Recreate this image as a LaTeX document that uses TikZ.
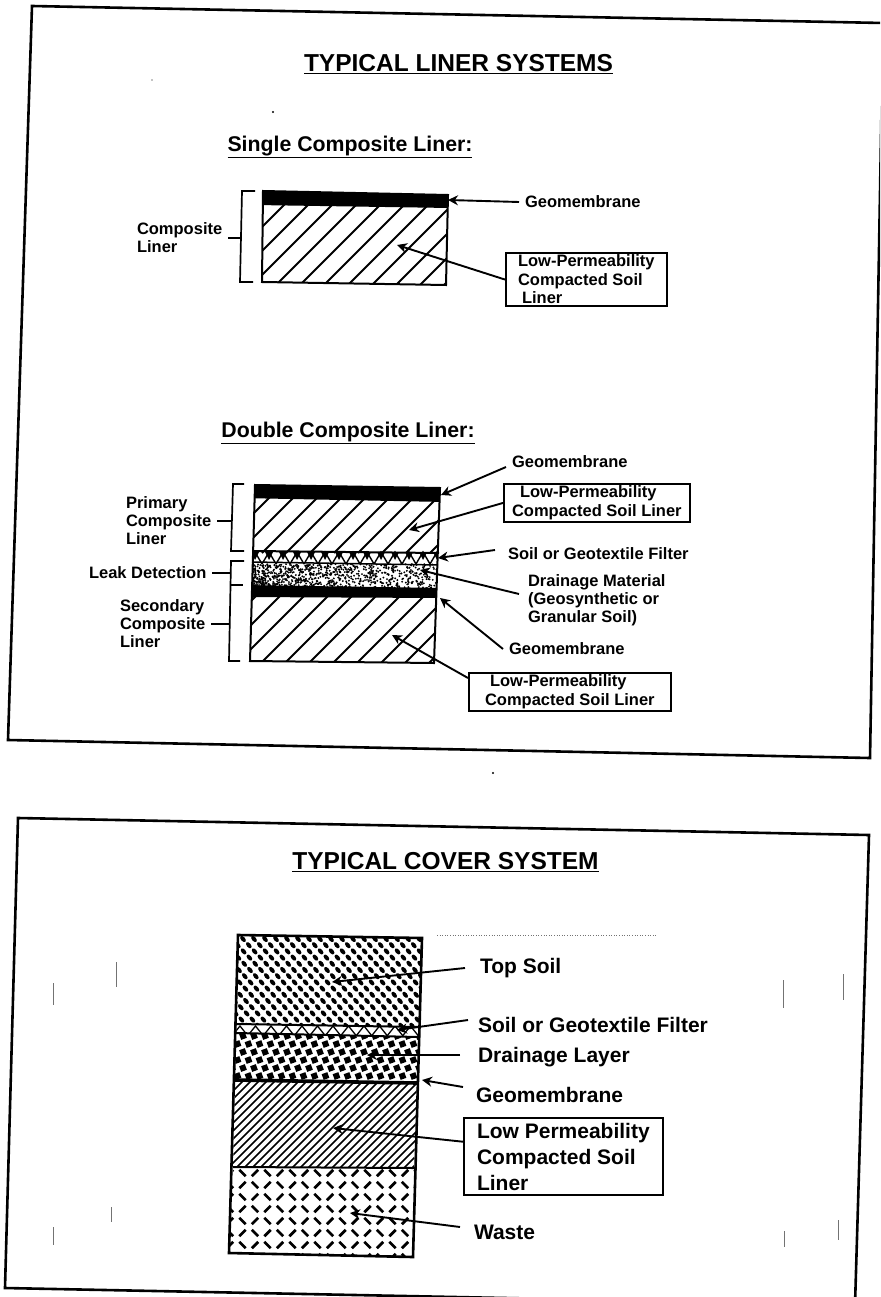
\documentclass[tikz,border=0pt]{standalone}
\usepackage{fontspec}
\setmainfont{Liberation Sans}
\usepackage{xcolor}
\usetikzlibrary{arrows.meta, positioning}

\begin{document}
\begin{tikzpicture}[
    x=1pt, y=-1pt,
    tag/.style={font=\fontsize{16.5}{18}\selectfont\bfseries, align=left, inner sep=0pt, outer sep=6pt, anchor=west},
    bigtag/.style={tag, font=\fontsize{21}{21}\selectfont\bfseries},
    tagbox/.style={draw, line width=2pt, font=\fontsize{16.5}{18.5}\selectfont\bfseries, align=left, inner ysep=2pt, anchor=north west},
    heading/.style={font=\fontsize{21.3}{24}\selectfont\bfseries, inner sep=0pt},
    title/.style={font=\fontsize{24.5}{28}\selectfont\bfseries, inner sep=0pt},
    arrow/.style={-{Stealth[length=10pt, width=10pt]}, line width=1.9pt},
    bracket/.style={line width=1.7pt},
    frame/.style={line width=2.6pt},
    hatch/.style={line width=1.8pt},
    edge/.style={line width=2pt},
    speck/.style={line width=0.6pt, black!55}
]
\useasboundingbox (0,0) rectangle (880,1297);
\clip (0,0) rectangle (880,1297);

% Frames
\draw[frame] (32,6) -- (883,23) -- (870,758) -- (8,740) -- cycle;
\draw[frame] (18,818) -- (869,835) -- (855,1305) -- (5,1288) -- cycle;

% Specks of the scan
\draw[speck] (116,962) -- (116,987);
\draw[speck] (53,983) -- (53,1005);
\draw[speck] (111,1207) -- (111,1222);
\draw[speck] (53,1227) -- (53,1245);
\draw[speck] (783,980) -- (783,1008);
\draw[speck] (843,974) -- (843,1000);
\draw[speck] (784,1231) -- (784,1247);
\draw[speck] (838,1220) -- (838,1240);
\draw[speck, dotted] (437,935) -- (657,935);
\fill (152,80) circle (0.7pt);
\fill (273,112) circle (1.2pt);
\fill (493,773) circle (1.2pt);

% Headings
\node[title] (liners) at (458.5,64) {\underline{TYPICAL LINER SYSTEMS}};
\node[heading] (single) at (350,147) {\underline{Single Composite Liner:}};
\node[heading] (double) at (348,433) {\underline{Double Composite Liner:}};
\node[title] (cover) at (445.5,862) {\underline{TYPICAL COVER SYSTEM}};

% Single composite liner
\begin{scope}
  \clip (263,191) -- (448,195) -- (446,285) -- (262,282) -- cycle;
  \foreach \i in {0,...,13} {
    \draw[hatch] (180+\i*24,285) -- (262+\i*24,203);
  }
  \fill (255,191) -- (450,195) -- (450,208) -- (255,205) -- cycle;
\end{scope}
\draw[edge] (263,191) -- (448,195) -- (446,285) -- (262,282) -- cycle;
\coordinate (geoone) at (448,200);
\coordinate (soilone) at (397,245);

\node[tag] (complabel) at (131,238) {Composite\\Liner};
\coordinate (brkone) at (241,237);
\draw[bracket] (255,191) -- (242,191) -- (240,282) -- (253,282);
\draw[bracket] (complabel.east) -- (complabel.east -| brkone);

\node[tag] (geoa) at (519,202) {Geomembrane};
\draw[arrow] (geoa.west) -- (geoone);
\node[tagbox, inner xsep=12pt] (soila) at (505,252) {Low-Permeability\\Compacted Soil\\\hspace*{4pt}Liner};
\draw[arrow] (soila.west) -- (soilone);

% Double composite liner
\begin{scope}
  \clip (255,485) -- (440,488) -- (434,663) -- (250,661) -- cycle;
  \foreach \i in {0,...,12} {
    \draw[hatch] (190+\i*24,553) -- (248+\i*24,495);
  }
  \foreach \i in {0,...,14} {
    \draw[line width=1.4pt] (248+\i*14,564) -- (255+\i*14,552) -- (262+\i*14,564);
    \fill (255+\i*14,560) -- (259+\i*14,552) -- (251+\i*14,552) -- cycle;
  }
  \pgfmathsetseed{7}
  \foreach \k in {1,...,900} {
    \pgfmathsetmacro{\px}{250+190*rnd^1.4}
    \pgfmathsetmacro{\py}{564+24*rnd}
    \fill (\px,\py) circle (1.05pt);
  }
  \foreach \i in {0,...,12} {
    \draw[hatch] (165+\i*24,663) -- (238+\i*24,590);
  }
  \fill (240,585) -- (445,588) -- (445,598) -- (240,597) -- cycle;
  \fill (240,485) -- (445,488) -- (445,502) -- (240,498) -- cycle;
\end{scope}
\draw[edge] (253,551) -- (439,553);
\draw[line width=1.5pt] (252,562) -- (438,565);
\draw[edge] (255,485) -- (440,488) -- (434,663) -- (250,661) -- cycle;
\coordinate (geotop) at (441,495);
\coordinate (soiltop) at (409,530);
\coordinate (filterpt) at (438,558);
\coordinate (drainpt) at (420,570);
\coordinate (geolow) at (440,598);
\coordinate (soillow) at (392,635);

\node[tag] (geob) at (506,462) {Geomembrane};
\draw[arrow] ([yshift=-5pt]geob.west) -- (geotop);
\node[tagbox, inner xsep=8pt] (soilb) at (503,483) {\hspace*{8pt}Low-Permeability\\Compacted Soil Liner};
\draw[arrow] (soilb.west) -- (soiltop);
\node[tag] (filter) at (502,554) {Soil or Geotextile Filter};
\draw[arrow] ([xshift=-7pt,yshift=4pt]filter.west) -- (filterpt);
\node[tag] (drain) at (522,600) {Drainage Material\\(Geosynthetic or\\Granular Soil)};
\draw[arrow] ([xshift=-3pt,yshift=6pt]drain.west) -- (drainpt);
\node[tag] (geoc) at (503,649) {Geomembrane};
\draw[arrow] (geoc.west) -- (geolow);
\node[tagbox, inner xsep=16pt] (soilc) at (468,672) {\hspace*{5pt}Low-Permeability\\Compacted Soil Liner};
\draw[arrow] ([yshift=-6pt]soilc.north west) -- (soillow);

\node[tag] (primary) at (120,521) {Primary\\Composite\\Liner};
\node[tag] (leak) at (83,573) {Leak Detection};
\node[tag] (secondary) at (114,624) {Secondary\\Composite\\Liner};
\coordinate (brktop) at (231,518);
\coordinate (brklow) at (230,573);
\draw[bracket] (244,484) -- (233,484) -- (231,551) -- (244,551);
\draw[bracket] (244,561) -- (231,561) -- (229,661) -- (240,661);
\draw[bracket] (230,585) -- (243,585);
\draw[bracket] (primary.east) -- (primary.east -| brktop);
\draw[bracket] (leak.east) -- (leak.east -| brklow);
\draw[bracket] (secondary.east) -- (secondary.east -| brklow);

% Cover system
\begin{scope}
  \clip (238,935) -- (422,938) -- (420,1027) -- (237,1024) -- cycle;
  \foreach \r in {0,...,14} {
    \foreach \c [evaluate=\c as \px using {232+\c*11+mod(\r,2)*5.5+\r*0.3}] in {0,...,17} {
      \fill[shift={(\px,939+\r*6.2)}, rotate=-50] (0,0) ellipse (3.6pt and 2.1pt);
    }
  }
\end{scope}
\begin{scope}
  \clip (237,1024) -- (420,1027) -- (419,1037) -- (236,1033) -- cycle;
  \foreach \i in {0,...,12} {
    \draw[line width=1.3pt] (232+\i*15.5,1036) -- (240+\i*15.5,1026) -- (248+\i*15.5,1036);
  }
\end{scope}
\begin{scope}
  \clip (236,1033) -- (419,1037) -- (417,1083) -- (235,1080) -- cycle;
  \foreach \r in {0,...,5} {
    \foreach \c [evaluate=\c as \px using {232+\c*11+mod(\r,2)*5.5}] in {0,...,17} {
      \fill[shift={(\px,1036+\r*8)}, rotate=20] (-3pt,-3pt) rectangle (3pt,3pt);
    }
  }
\end{scope}
\begin{scope}
  \clip (235,1080) -- (417,1083) -- (414,1168) -- (233,1167) -- cycle;
  \foreach \i in {0,...,36} {
    \draw[line width=1.6pt] (140+\i*8,1168) -- (230+\i*8,1078);
  }
\end{scope}
\begin{scope}
  \clip (233,1167) -- (414,1168) -- (413,1257) -- (229,1253) -- cycle;
  \foreach \r in {0,...,7} {
    \foreach \c [evaluate=\c as \ang using {45+90*mod(\c+\r,2)}] in {0,...,15} {
      \draw[line width=2.8pt, shift={(230+\c*12.5,1173+\r*12)}, rotate=\ang] (-4.5pt,0pt) -- (4.5pt,0pt);
    }
  }
\end{scope}
\draw[edge] (237,1024) -- (420,1027);
\draw[edge] (236,1033) -- (419,1037);
\draw[line width=3.6pt] (235,1080) -- (417,1083);
\draw[edge] (233,1167) -- (414,1168);
\draw[line width=2.6pt] (238,935) -- (422,938) -- (413,1257) -- (229,1253) -- cycle;
\coordinate (topsoil) at (332,982);
\coordinate (filtertop) at (397,1030);
\coordinate (drainlayer) at (367,1055);
\coordinate (geopt) at (422,1080);
\coordinate (lowperm) at (333,1128);
\coordinate (wastept) at (350,1213);

\node[bigtag] (tops) at (474,968) {Top Soil};
\draw[arrow] ([xshift=-9pt]tops.west) -- (topsoil);
\node[bigtag] (filtc) at (472,1025) {Soil or Geotextile Filter};
\draw[arrow] ([xshift=-4pt,yshift=5pt]filtc.west) -- (filtertop);
\node[bigtag] (drainc) at (472,1057) {Drainage Layer};
\draw[arrow] ([xshift=-12pt,yshift=2pt]drainc.west) -- (drainlayer);
\node[bigtag] (geod) at (470,1095) {Geomembrane};
\draw[arrow] ([xshift=-7pt,yshift=8pt]geod.west) -- (geopt);
\node[tagbox, inner xsep=13pt, inner ysep=5pt, font=\fontsize{21}{26}\selectfont\bfseries] (lowc) at (463,1117) {Low Permeability\\Compacted Soil\\Liner};
\draw[arrow] ([yshift=15pt]lowc.west) -- (lowperm);
\node[bigtag] (waste) at (468,1232) {Waste};
\draw[arrow] ([xshift=-8pt,yshift=5pt]waste.west) -- (wastept);

\end{tikzpicture}
\end{document}
